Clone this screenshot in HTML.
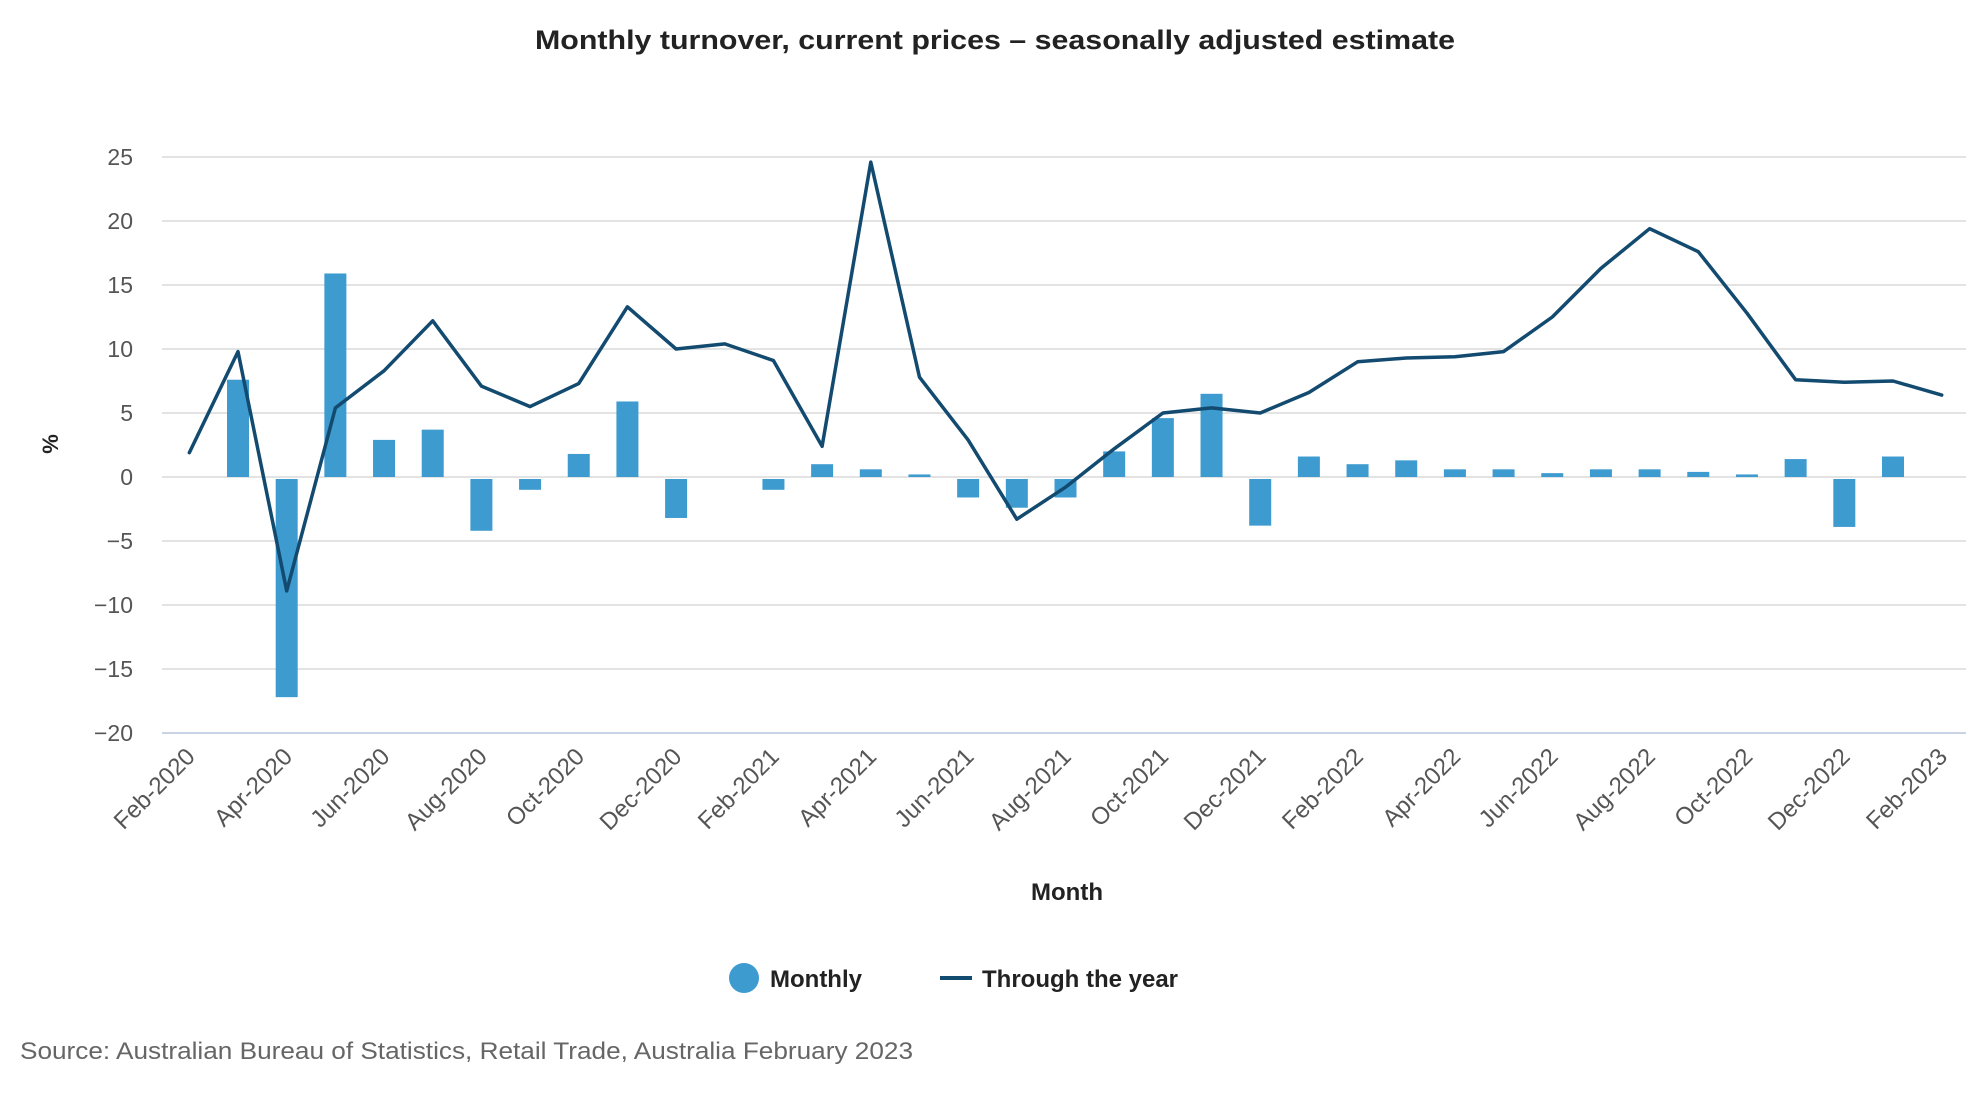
<!DOCTYPE html>
<html><head><meta charset="utf-8"><style>
html,body{margin:0;padding:0;background:#fff;}
svg{display:block;font-family:"Liberation Sans",sans-serif;}
</style></head><body>
<svg id="chart" width="1980" height="1100" viewBox="0 0 1980 1100">
<text x="995" y="49" text-anchor="middle" font-size="27" font-weight="bold" fill="#222" textLength="920" lengthAdjust="spacingAndGlyphs">Monthly turnover, current prices – seasonally adjusted estimate</text>
<g id="grid"></g>
<g id="yticks"></g>
<g id="bars"></g>
<g id="line"></g>
<g id="xticks"></g>
<text transform="translate(58,444) rotate(-90)" text-anchor="middle" font-size="22" font-weight="bold" fill="#222">%</text>
<text x="1067" y="900" text-anchor="middle" font-size="24" font-weight="bold" fill="#222">Month</text>
<g>
<g>
<circle cx="744" cy="978" r="15" fill="#3d9bd0"/>
<text x="770" y="987" font-size="24" font-weight="bold" fill="#222">Monthly</text>
</g>
<g>
<rect x="940" y="976" width="32" height="4" fill="#134a70"/>
<text x="982" y="987" font-size="24" font-weight="bold" fill="#222">Through the year</text>
</g>
</g>
<text x="20" y="1059" font-size="24" fill="#666" textLength="893" lengthAdjust="spacingAndGlyphs">Source: Australian Bureau of Statistics, Retail Trade, Australia February 2023</text>
</svg>
<script>
const months = ["Feb-2020","Mar-2020","Apr-2020","May-2020","Jun-2020","Jul-2020","Aug-2020","Sep-2020","Oct-2020","Nov-2020","Dec-2020","Jan-2021","Feb-2021","Mar-2021","Apr-2021","May-2021","Jun-2021","Jul-2021","Aug-2021","Sep-2021","Oct-2021","Nov-2021","Dec-2021","Jan-2022","Feb-2022","Mar-2022","Apr-2022","May-2022","Jun-2022","Jul-2022","Aug-2022","Sep-2022","Oct-2022","Nov-2022","Dec-2022","Jan-2023","Feb-2023"];
const monthly = [0,7.6,-17.2,15.9,2.9,3.7,-4.2,-1.0,1.8,5.9,-3.2,0,-1.0,1.0,0.6,0.2,-1.6,-2.4,-1.6,2.0,4.6,6.5,-3.8,1.6,1.0,1.3,0.6,0.6,0.3,0.6,0.6,0.4,0.2,1.4,-3.9,1.6,0];
const throughYear = [1.9,9.8,-8.9,5.4,8.3,12.2,7.1,5.5,7.3,13.3,10.0,10.4,9.1,2.4,24.6,7.8,2.9,-3.3,-0.8,2.2,5.0,5.4,5.0,6.6,9.0,9.3,9.4,9.8,12.5,16.3,19.4,17.6,12.8,7.6,7.4,7.5,6.4];
const yTicks = [25,20,15,10,5,0,-5,-10,-15,-20];

const NS = "http://www.w3.org/2000/svg";
const left = 165, right = 1966, yTop = 157, yBot = 733, vMax = 25, vMin = -20;
const step = (right - left) / months.length;
function xPos(i){ return left + step * (i + 0.5); }
function yPos(v){ return yTop + (vMax - v) / (vMax - vMin) * (yBot - yTop); }
function mk(tag, attrs){ const e = document.createElementNS(NS, tag); for (const k in attrs) e.setAttribute(k, attrs[k]); return e; }

const grid = document.getElementById('grid'), yt = document.getElementById('yticks');
yTicks.forEach(v => {
  const l = mk('line', {x1: left - 3, x2: right, y1: yPos(v), y2: yPos(v), stroke: v === vMin ? '#c8d3e6' : '#e3e3e3', 'stroke-width': 2});
  
  
  grid.appendChild(l);
  const t = mk('text', {x: 133, y: yPos(v) + 8, 'text-anchor': 'end', 'font-size': 23, fill: '#555'});
  t.textContent = v < 0 ? '−' + Math.abs(v) : String(v);
  
  
  yt.appendChild(t);
});

const bars = document.getElementById('bars'), bw = 22;
monthly.forEach((v, i) => {
  const y0 = yPos(0), y1 = yPos(v);
  const r = mk('rect', {x: xPos(i) - bw / 2, y: Math.min(y0, y1) + (v < 0 ? 2 : 0), width: bw, height: Math.max(Math.abs(y1 - y0) - (v < 0 ? 2 : 0), 0), fill: '#3d9bd0'});
  
  
  bars.appendChild(r);
});

const pts = throughYear.map((v, i) => xPos(i).toFixed(1) + ',' + yPos(v).toFixed(1)).join(' ');
const pl = mk('polyline', {points: pts, fill: 'none', stroke: '#134a70', 'stroke-width': 3.5, 'stroke-linejoin': 'round', 'stroke-linecap': 'round'});


document.getElementById('line').appendChild(pl);

const xt = document.getElementById('xticks');
months.forEach((m, i) => {
  if (i % 2 !== 0) return;
  const x = xPos(i) + 7, y = 758;
  const t = mk('text', {x: x, y: y, 'text-anchor': 'end', 'font-size': 24, fill: '#555', transform: 'rotate(-45 ' + x + ' ' + y + ')'});
  t.textContent = m;
  
  
  xt.appendChild(t);
});
</script>
</body></html>
